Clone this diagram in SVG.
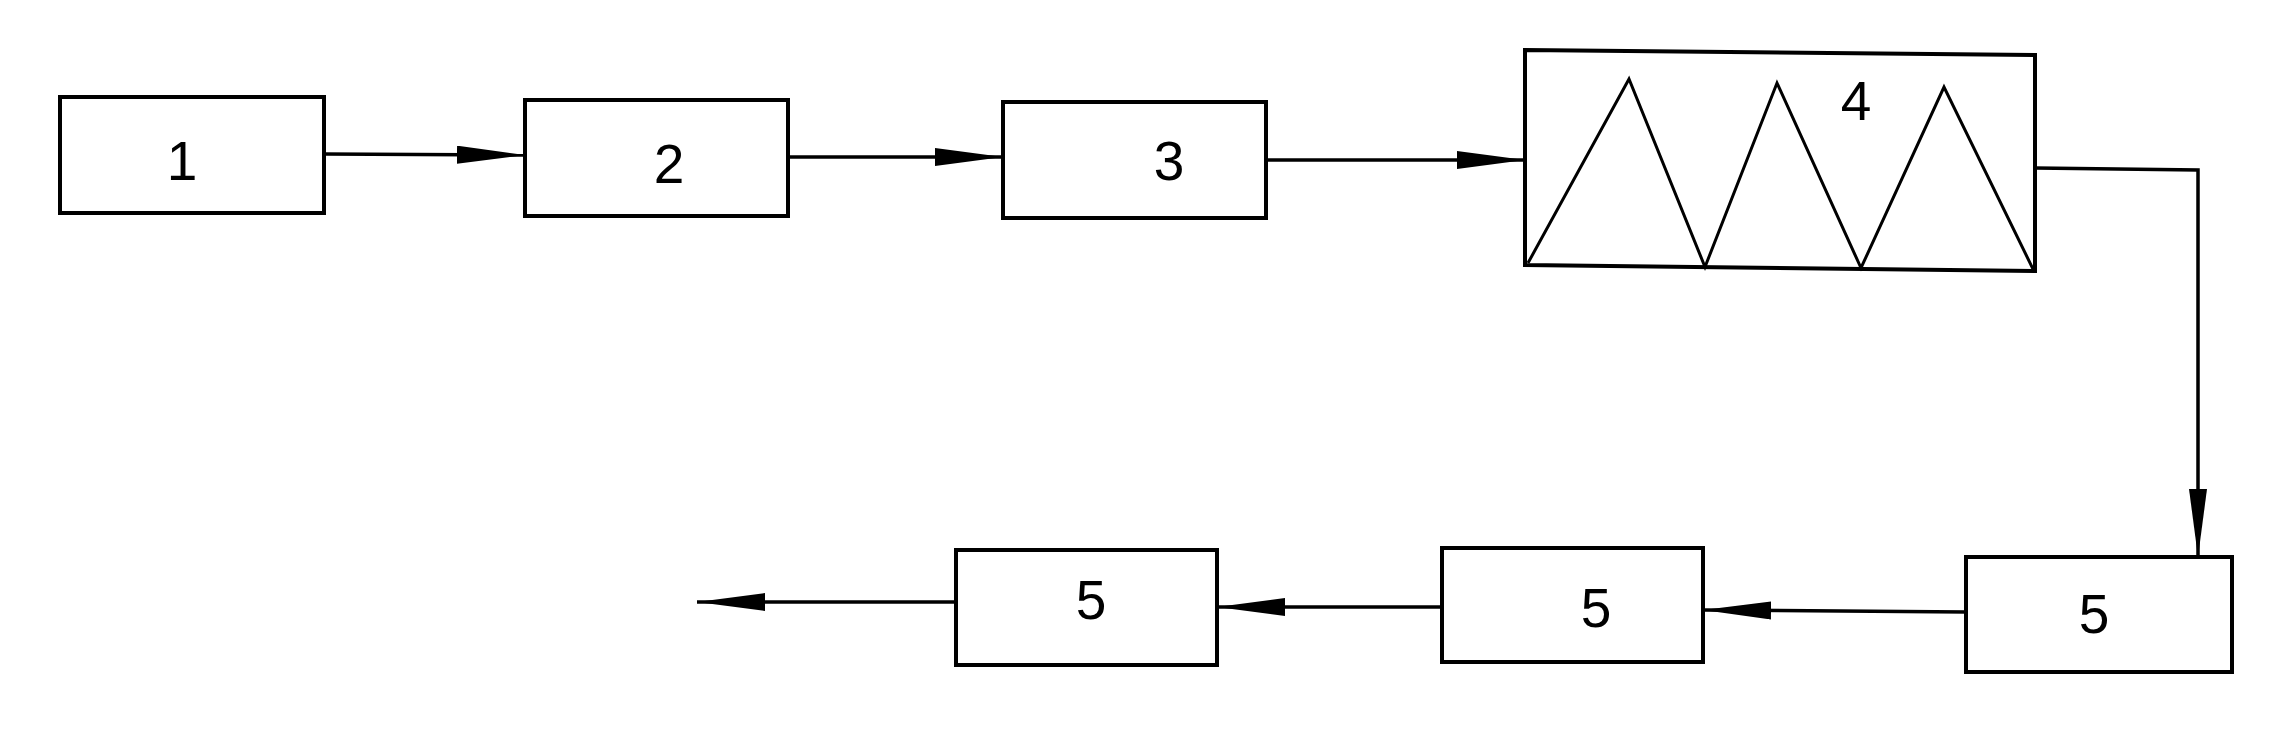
<svg xmlns="http://www.w3.org/2000/svg" width="2276" height="733" viewBox="0 0 2276 733">
<style>
.box{fill:#fff;stroke:#000;stroke-width:4}
.zig{fill:none;stroke:#000;stroke-width:3}
.lbl{font-family:"Liberation Sans",Arial,sans-serif;font-size:55px;fill:#000;text-anchor:middle}
.con{fill:none;stroke:#000;stroke-width:3.5}
</style>
<defs>
<marker id="ah" markerUnits="userSpaceOnUse" markerWidth="70" markerHeight="20" refX="68" refY="9" orient="auto">
<path d="M0,0 L68,9 L0,18 z" fill="#000"/>
</marker>
</defs>
<rect width="2276" height="733" fill="#fff"/>
<g id="connectors">
<line class="con" x1="324" y1="154" x2="525" y2="155" marker-end="url(#ah)"/>
<line class="con" x1="788" y1="157" x2="1003" y2="157" marker-end="url(#ah)"/>
<line class="con" x1="1266" y1="160" x2="1525" y2="160" marker-end="url(#ah)"/>
<polyline class="con" points="2035,168 2198,170 2198,557" marker-end="url(#ah)"/>
<line class="con" x1="1966" y1="612" x2="1703" y2="610" marker-end="url(#ah)"/>
<line class="con" x1="1442" y1="607" x2="1217" y2="607" marker-end="url(#ah)"/>
<line class="con" x1="956" y1="602" x2="697" y2="602" marker-end="url(#ah)"/>
</g>
<g id="node1">
<rect class="box" x="60" y="97" width="264" height="116"/>
<text class="lbl" x="182" y="180">1</text>
</g>
<g id="node2">
<rect class="box" x="525" y="100" width="263" height="116"/>
<text class="lbl" x="669" y="183">2</text>
</g>
<g id="node3">
<rect class="box" x="1003" y="102" width="263" height="116"/>
<text class="lbl" x="1169" y="180">3</text>
</g>
<g id="node4">
<polygon class="box" points="1525,50 2035,55 2035,271 1525,265"/>
<polyline class="zig" points="1528,263 1629,79 1705,267 1777,83 1861,268 1944,87 2033,269"/>
<text class="lbl" x="1856" y="120">4</text>
</g>
<g id="node5a">
<rect class="box" x="1966" y="557" width="266" height="115"/>
<text class="lbl" x="2094" y="633">5</text>
</g>
<g id="node5b">
<rect class="box" x="1442" y="548" width="261" height="114"/>
<text class="lbl" x="1596" y="627">5</text>
</g>
<g id="node5c">
<rect class="box" x="956" y="550" width="261" height="115"/>
<text class="lbl" x="1091" y="619">5</text>
</g>
</svg>
